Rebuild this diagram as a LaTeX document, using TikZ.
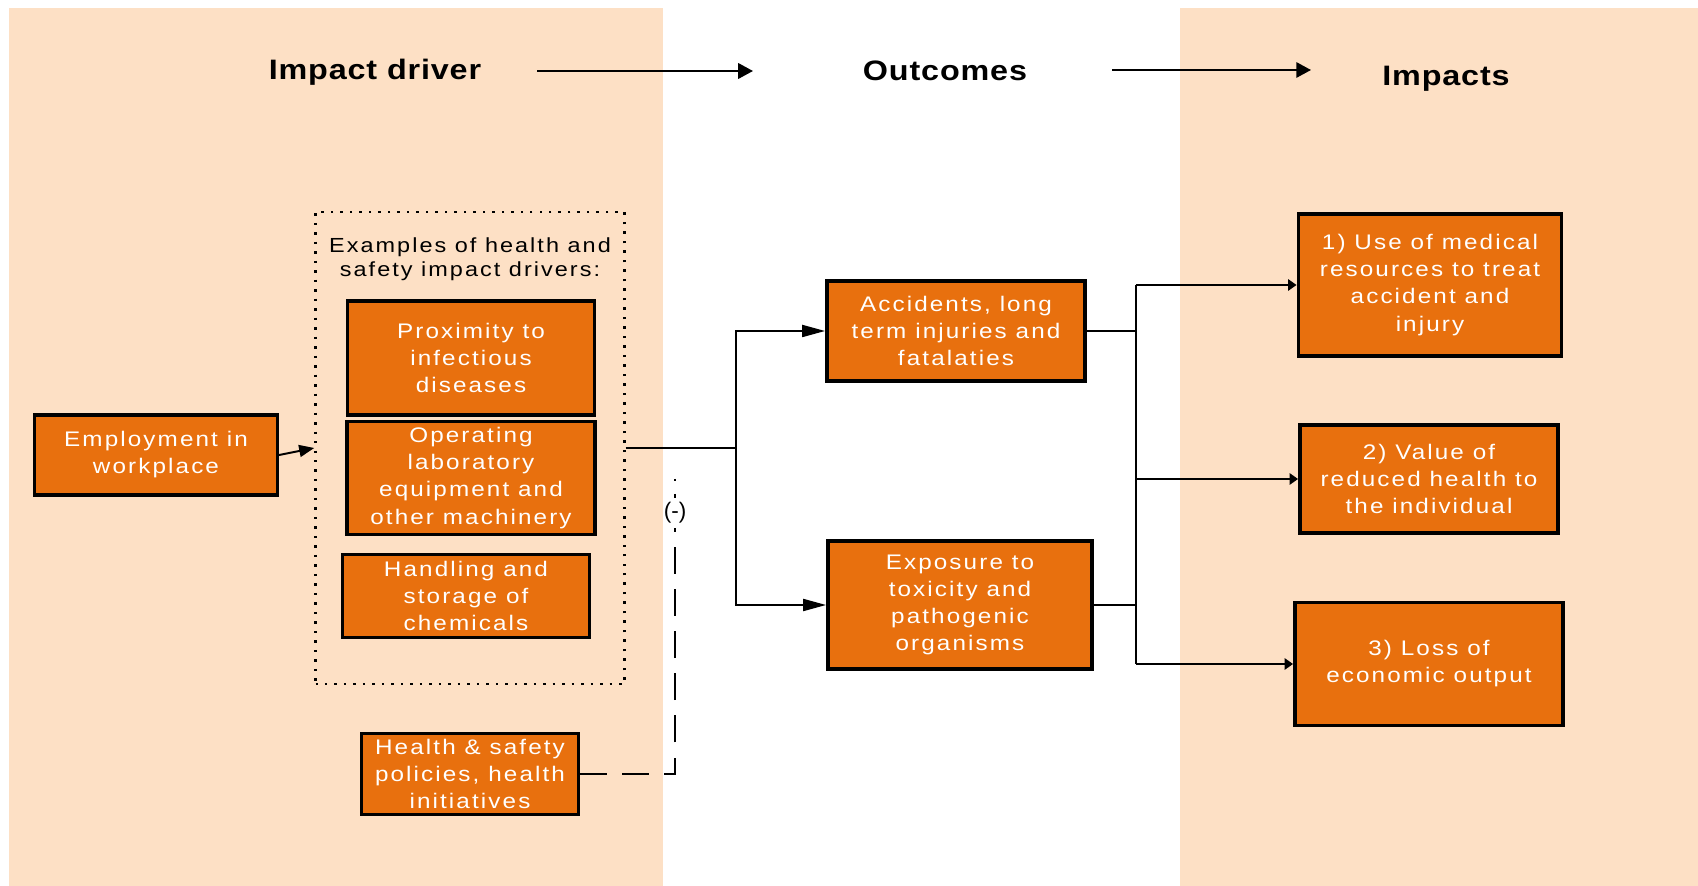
\documentclass[tikz,border=0pt]{standalone}
\usepackage{fontspec}
\setmainfont{Liberation Sans}
\newfontfamily\boxfont[LetterSpace=10,FakeStretch=1.15]{Liberation Sans}
\newfontfamily\headfont[LetterSpace=3,FakeStretch=1.15]{Liberation Sans}
\usetikzlibrary{positioning, arrows.meta}
\definecolor{peach}{RGB}{253,224,197}
\definecolor{burnt}{RGB}{232,112,14}

\begin{document}
\begin{tikzpicture}[
  x=0.1mm, y=-0.1mm,
  obox/.style={rectangle, draw, line width=0.9pt, fill=burnt, text=white, align=center,
    inner sep=0pt, font=\boxfont\fontsize{6pt}{7.7pt}\selectfont},
  head/.style={inner sep=0pt, font=\headfont\bfseries\fontsize{8pt}{10pt}\selectfont},
  link/.style={line width=0.55pt},
  tip/.style={-{Triangle[length=2.4pt,width=3.2pt]}},
  midtip/.style={-{Triangle[length=4.3pt,width=3.4pt]}},
  bigtip/.style={-{Triangle[length=6.5pt,width=3.4pt]}},
  dashline/.style={line width=0.6pt, dash pattern=on 7.7pt off 4.3pt}
]
\useasboundingbox (0,0) rectangle (1698,886);

% shaded columns
\fill[peach] (9,8) rectangle (663,886);
\fill[peach] (1180,8) rectangle (1698,886);

% column headings
\node[head] (hdrv) at (375,72) {Impact driver};
\node[head] (hout) at (945,71) {Outcomes};
\node[head] (himp) at (1446,79) {Impacts};
\coordinate (h1) at (537,71);
\coordinate (h2) at (753,71);
\coordinate (h3) at (1112,70);
\coordinate (h4) at (1311,70);
\draw[link, -{Triangle[length=4.2pt,width=4.4pt]}] (h1) -- (h2);
\draw[link, -{Triangle[length=4.2pt,width=4.4pt]}] (h3) -- (h4);

% impact drivers
\node[obox, minimum width=24.3mm, minimum height=8mm] (emp) at (156,455) {Employment in\\workplace};
\node[draw, dotted, line width=0.7pt, minimum width=30.9mm, minimum height=47.2mm, inner sep=0pt] (ex) at (470,448) {};
\node[align=center, inner sep=0pt, font=\boxfont\fontsize{5.8pt}{6.9pt}\selectfont] (extxt) at (470,259)
  {Examples of health and\\safety impact drivers:};
\node[obox, minimum width=24.7mm, minimum height=11.4mm] (prox) at (471,358) {Proximity to\\infectious\\diseases};
\node[obox, minimum width=24.8mm, minimum height=11.3mm] (oper) at (471,478) {Operating\\laboratory\\equipment and\\other machinery};
\node[obox, minimum width=24.7mm, minimum height=8.3mm] (hand) at (466,596) {Handling and\\storage of\\chemicals};
\node[obox, minimum width=21.7mm, minimum height=8.1mm] (hs) at (470,774) {Health \& safety\\policies, health\\initiatives};

% outcomes
\node[obox, line width=1.1pt, minimum width=25.8mm, minimum height=10mm] (acc) at (956,331) {Accidents, long\\term injuries and\\fatalaties};
\node[obox, line width=1.1pt, minimum width=26.4mm, minimum height=12.8mm] (exp) at (960,605) {Exposure to\\toxicity and\\pathogenic\\organisms};

% impacts
\node[obox, line width=1.1pt, minimum width=26.3mm, minimum height=14.2mm] (i1) at (1430,285) {1) Use of medical\\resources to treat\\accident and\\injury};
\node[obox, line width=1.1pt, minimum width=25.8mm, minimum height=10.8mm] (i2) at (1429,479) {2) Value of\\reduced health to\\the individual};
\node[obox, line width=1.1pt, minimum width=26.8mm, minimum height=12.3mm] (i3) at (1429,664) {3) Loss of\\economic output};

% connectors
\draw[link, midtip] (emp.east) -- (ex.west);
\draw[link] (ex.east) -- ++(110,0) coordinate (j1);
\draw[link, bigtip] (j1) |- (acc.west);
\draw[link, bigtip] (j1) |- (exp.west);

\draw[link] (acc.east) -- ++(49,0) coordinate (j2);
\draw[link] (exp.east) -- (exp.east -| j2);
\draw[link] (j2 |- i1.west) -- (j2 |- i3.west);
\draw[link, tip] (j2 |- i1.west) -- (i1.west);
\draw[link, tip] (j2 |- i2.west) -- (i2.west);
\draw[link, tip] (j2 |- i3.west) -- (i3.west);

% mitigating effect
\node[inner sep=1pt, font=\fontsize{6.4pt}{7pt}\selectfont] (neg) at (675,513) {(-)};
\draw[dashline] (hs.east) -| (neg.south);
\draw[line width=0.6pt, dash pattern=on 0.6pt off 3.6pt on 1.8pt off 2pt] (675,479) -- (neg.north);
\end{tikzpicture}
\end{document}
